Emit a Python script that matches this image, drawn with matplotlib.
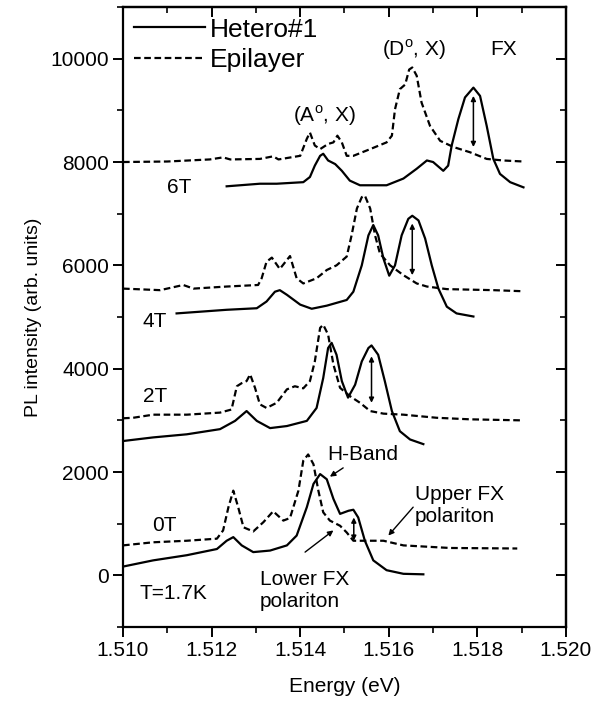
import matplotlib
matplotlib.use("Agg")
import matplotlib.pyplot as plt
from matplotlib.ticker import MultipleLocator

plt.rcParams['font.family'] = ['Liberation Sans', 'DejaVu Sans']

# Spectra: energy (eV) and PL intensity (arb. units)
energy_0T_epi = [1.5100, 1.51068, 1.51144, 1.51212, 1.51226, 1.51238, 1.51249, 1.5126, 1.51272,
                 1.51294, 1.51317, 1.51339, 1.51362, 1.51377, 1.51396, 1.51407, 1.51418, 1.5143,
                 1.51441, 1.51452, 1.51467, 1.5149, 1.51505, 1.5152, 1.5155, 1.51588, 1.51633,
                 1.51738, 1.5189]
pl_0T_epi = [580, 640, 670, 710, 870, 1320, 1640, 1320, 930, 850, 1030, 1240, 1060, 1110, 1640,
             2220, 2340, 2150, 1640, 1220, 1060, 960, 830, 670, 670, 670, 580, 530, 520]

energy_0T_het = [1.5100, 1.51068, 1.51144, 1.51212, 1.51234, 1.51249, 1.51268, 1.51294, 1.51332,
                 1.5137, 1.51392, 1.51415, 1.5143, 1.51445, 1.5146, 1.51475, 1.5149, 1.51509,
                 1.5152, 1.51531, 1.51546, 1.51565, 1.51595, 1.51633, 1.51678]
pl_0T_het = [170, 290, 390, 510, 670, 740, 580, 450, 480, 580, 770, 1320, 1770, 1960, 1860, 1480,
             1190, 1250, 1270, 1120, 670, 290, 100, 30, 20]

energy_2T_epi = [1.5100, 1.51023, 1.51068, 1.51144, 1.51219, 1.51245, 1.51257, 1.51268, 1.51279,
                 1.51287, 1.51298, 1.51309, 1.51324, 1.51347, 1.5137, 1.51388, 1.51407, 1.51422,
                 1.51433, 1.51445, 1.51452, 1.51463, 1.51475, 1.5149, 1.51512, 1.51535, 1.51558,
                 1.51588, 1.51633, 1.51708, 1.51783, 1.5190]
pl_2T_epi = [3040, 3050, 3110, 3110, 3150, 3210, 3660, 3720, 3760, 3890, 3630, 3310, 3240, 3340,
             3600, 3660, 3620, 3760, 4140, 4790, 4850, 4660, 4080, 3630, 3470, 3340, 3180, 3130,
             3110, 3050, 3020, 3000]

energy_2T_het = [1.5100, 1.51068, 1.51144, 1.51219, 1.51253, 1.51279, 1.51302, 1.51332, 1.5137,
                 1.51415, 1.51437, 1.51452, 1.51463, 1.51471, 1.51482, 1.51494, 1.51508, 1.51524,
                 1.51539, 1.51554, 1.51561, 1.51576, 1.51591, 1.51607, 1.51625, 1.51648, 1.51678]
pl_2T_het = [2600, 2670, 2730, 2830, 2990, 3180, 2990, 2850, 2890, 2990, 3240, 3820, 4400, 4500,
             4270, 3760, 3440, 3690, 4140, 4400, 4450, 4270, 3760, 3180, 2790, 2630, 2540]

energy_4T_epi = [1.5100, 1.51084, 1.51136, 1.51159, 1.51234, 1.51305, 1.51313, 1.51324, 1.51336,
                 1.51354, 1.51377, 1.51392, 1.51407, 1.51437, 1.5146, 1.51482, 1.51505, 1.51516,
                 1.51528, 1.51539, 1.51546, 1.51558, 1.51569, 1.5158, 1.51603, 1.51633, 1.51663,
                 1.51686, 1.51731, 1.51836, 1.5190]
pl_4T_epi = [5550, 5520, 5620, 5550, 5590, 5620, 5750, 6070, 6150, 5930, 6180, 5750, 5650, 5750,
             5910, 6000, 6170, 6580, 7100, 7320, 7350, 7100, 6580, 6230, 6000, 5810, 5650, 5590,
             5540, 5520, 5500]

energy_4T_het = [1.51121, 1.51234, 1.51302, 1.51324, 1.51343, 1.51354, 1.5137, 1.5140, 1.51426,
                 1.5146, 1.51505, 1.5152, 1.51539, 1.51554, 1.51565, 1.51576, 1.51588, 1.51601,
                 1.51614, 1.51629, 1.51644, 1.51653, 1.51667, 1.51682, 1.51697, 1.51712, 1.51731,
                 1.51753, 1.51791]
pl_4T_het = [5070, 5140, 5170, 5300, 5490, 5520, 5430, 5240, 5160, 5220, 5330, 5490, 6000, 6580,
             6780, 6580, 6130, 5800, 6000, 6580, 6900, 6960, 6870, 6520, 6000, 5550, 5200, 5070,
             5010]

energy_6T_epi = [1.5100, 1.5110, 1.51196, 1.51226, 1.51242, 1.51309, 1.51339, 1.51351, 1.5140,
                 1.51415, 1.51422, 1.51433, 1.51445, 1.51463, 1.51475, 1.51484, 1.51494, 1.51505,
                 1.5152, 1.51558, 1.51595, 1.51607, 1.51614, 1.51625, 1.51637, 1.51646, 1.51653,
                 1.51663, 1.51674, 1.51693, 1.51716, 1.51746, 1.51783, 1.51821, 1.51858, 1.51904]
pl_6T_epi = [8000, 8010, 8050, 8090, 8050, 8060, 8110, 8050, 8120, 8450, 8570, 8320, 8250, 8350,
             8380, 8510, 8380, 8120, 8120, 8250, 8380, 8510, 9020, 9410, 9500, 9790, 9830, 9670,
             9150, 8700, 8410, 8290, 8190, 8060, 8030, 8010]

energy_6T_het = [1.51234, 1.51309, 1.51347, 1.51407, 1.51422, 1.51433, 1.51445, 1.51452, 1.51463,
                 1.51479, 1.51494, 1.51512, 1.51535, 1.51595, 1.51633, 1.51663, 1.51686, 1.5170,
                 1.51723, 1.51734, 1.51742, 1.51757, 1.51772, 1.51791, 1.51806, 1.51821, 1.51836,
                 1.51851, 1.51874, 1.51904]
pl_6T_het = [7530, 7580, 7580, 7610, 7710, 7930, 8120, 8160, 8030, 7960, 7830, 7640, 7550, 7550,
             7680, 7870, 8030, 8000, 7830, 7930, 8320, 8830, 9250, 9440, 9280, 8700, 8060, 7770,
             7610, 7510]

# FX double arrows: (energy, top, bottom)
fx_arrows = [(1.51521, 1120, 670), (1.51561, 4240, 3340), (1.51653, 6810, 5810), (1.51791, 9280, 8290)]

fig = plt.figure(figsize=(6.08, 7.02), dpi=100)
ax = fig.add_axes([0.2023, 0.1068, 0.7286, 0.8832])

lw = 1.6
dash = (3.0, 1.6)
ax.plot(energy_0T_het, pl_0T_het, color='black', lw=lw, label='Hetero#1')
ax.plot(energy_0T_epi, pl_0T_epi, color='black', lw=lw, dashes=dash, label='Epilayer')
for e, p in [(energy_2T_het, pl_2T_het), (energy_4T_het, pl_4T_het), (energy_6T_het, pl_6T_het)]:
    ax.plot(e, p, color='black', lw=lw)
for e, p in [(energy_2T_epi, pl_2T_epi), (energy_4T_epi, pl_4T_epi), (energy_6T_epi, pl_6T_epi)]:
    ax.plot(e, p, color='black', lw=lw, dashes=dash)

for x, top, bot in fx_arrows:
    ax.annotate('', xy=(x, bot), xytext=(x, top),
                arrowprops=dict(arrowstyle='<|-|>', color='black', lw=1.1,
                                mutation_scale=7, shrinkA=0, shrinkB=0))

ax.set_xlim(1.510, 1.520)
ax.set_ylim(-1000, 11000)
ax.xaxis.set_major_locator(MultipleLocator(0.002))
ax.xaxis.set_minor_locator(MultipleLocator(0.001))
ax.yaxis.set_major_locator(MultipleLocator(2000))
ax.yaxis.set_minor_locator(MultipleLocator(1000))
ax.xaxis.set_major_formatter(lambda v, pos: f"{v:.3f}")
ax.yaxis.set_major_formatter(lambda v, pos: f"{v:.0f}" if v >= 0 else "")

ax.tick_params(which='major', direction='out', length=7, width=1.4, labelsize=15, pad=3)
ax.tick_params(which='minor', direction='out', length=4, width=1.2)
for s in ax.spines.values():
    s.set_linewidth(1.6)

# mirrored ticks pointing inward on top and right
top = ax.secondary_xaxis('top')
top.xaxis.set_major_locator(MultipleLocator(0.002))
top.xaxis.set_minor_locator(MultipleLocator(0.001))
top.tick_params(which='major', direction='in', length=7, width=1.4, labeltop=False)
top.tick_params(which='minor', direction='in', length=4, width=1.2)
right = ax.secondary_yaxis('right')
right.yaxis.set_major_locator(MultipleLocator(2000))
right.yaxis.set_minor_locator(MultipleLocator(1000))
right.tick_params(which='major', direction='in', length=7, width=1.4, labelright=False)
right.tick_params(which='minor', direction='in', length=4, width=1.2)
for sec in (top, right):
    for s in sec.spines.values():
        s.set_linewidth(1.6)

ax.set_xlabel('Energy (eV)', fontsize=15, labelpad=12)
ax.set_ylabel('PL intensity (arb. units)', fontsize=14, labelpad=6)

ax.legend(loc='upper left', frameon=False, fontsize=19, handlelength=2.7,
          handletextpad=0.2, labelspacing=0.25, borderaxespad=0.3, borderpad=0.1)

fs = 15
ax.text(1.51099, 7510, '6T', fontsize=fs, va='center')
ax.text(1.51045, 4910, '4T', fontsize=fs, va='center')
ax.text(1.51045, 3470, '2T', fontsize=fs, va='center')
ax.text(1.51065, 960, '0T', fontsize=fs, va='center')
ax.text(1.51038, -350, 'T=1.7K', fontsize=fs, va='center')
ax.text(1.51384, 8900, r'(A$^\mathregular{o}$, X)', fontsize=fs, va='center')
ax.text(1.51585, 10170, r'(D$^\mathregular{o}$, X)', fontsize=fs, va='center')
ax.text(1.51828, 10170, 'FX', fontsize=fs, va='center')
ax.text(1.5146, 2330, 'H-Band', fontsize=fs, va='center')
ax.text(1.51309, -290, 'Lower FX\npolariton', fontsize=fs, va='center', linespacing=1.2)
ax.text(1.51659, 1350, 'Upper FX\npolariton', fontsize=fs, va='center', linespacing=1.2)

arrow_kw = dict(arrowstyle='-|>', color='black', lw=1.0, mutation_scale=8, shrinkA=0, shrinkB=0)
ax.annotate('', xy=(1.51467, 1910), xytext=(1.51497, 2080), arrowprops=arrow_kw)
ax.annotate('', xy=(1.51475, 870), xytext=(1.51411, 450), arrowprops=arrow_kw)
ax.annotate('', xy=(1.51599, 770), xytext=(1.51655, 1320), arrowprops=arrow_kw)

fig.savefig('out.png', dpi=100)
